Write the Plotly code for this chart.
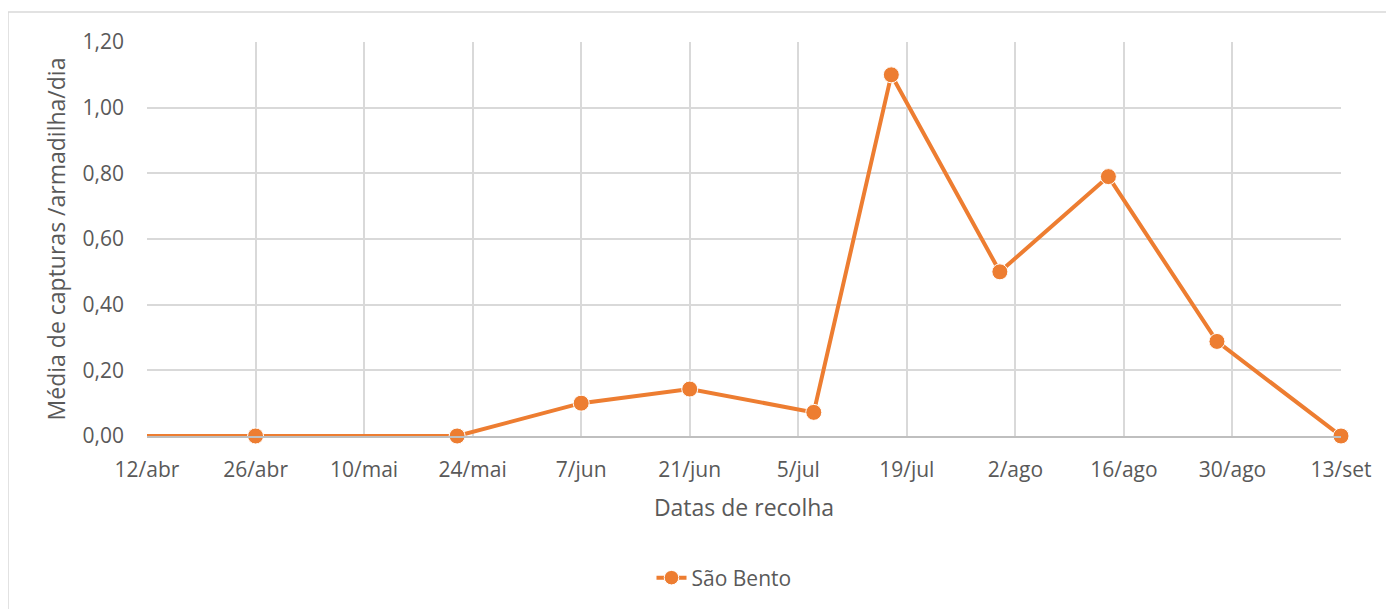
import plotly.graph_objects as go

# Data
dates = ["2021-04-12", "2021-04-26", "2021-05-22", "2021-06-07", "2021-06-21",
         "2021-07-07", "2021-07-17", "2021-07-31", "2021-08-14", "2021-08-28", "2021-09-13"]
values = [0.0, 0.0, 0.0, 0.10, 0.143, 0.072, 1.10, 0.50, 0.79, 0.288, 0.0]
marker_sizes = [0, 16, 16, 16, 16, 16, 16, 16, 16, 16, 16]

tick_dates = ["2021-04-12", "2021-04-26", "2021-05-10", "2021-05-24", "2021-06-07", "2021-06-21",
              "2021-07-05", "2021-07-19", "2021-08-02", "2021-08-16", "2021-08-30", "2021-09-13"]
tick_labels = ["12/abr", "26/abr", "10/mai", "24/mai", "7/jun", "21/jun",
               "5/jul", "19/jul", "2/ago", "16/ago", "30/ago", "13/set"]
y_ticks = [0, 0.2, 0.4, 0.6, 0.8, 1.0, 1.2]

series_name = "São Bento"
orange = "#ED7D31"
text_grey = "#595959"
grid = "#D9D9D9"
font_family = "Open Sans"

# page body has an 8px margin: figure occupies (8,8)-(1394,609)
W, H = 1386, 601
L, R, T, B = 139, 53, 34, 172
PW, PH = W - L - R, H - T - B

fig = go.Figure()
fig.add_trace(go.Scatter(
    x=dates, y=values, name=series_name, mode="lines+markers",
    line=dict(color=orange, width=4),
    marker=dict(color=orange, size=marker_sizes, opacity=1),
    cliponaxis=False,
))

fig.update_layout(
    width=W, height=H,
    margin=dict(l=L, r=R, t=T, b=B),
    paper_bgcolor="white", plot_bgcolor="white",
    separators=",.",
    font=dict(family=font_family, color=text_grey, size=21),
    showlegend=True,
    legend=dict(orientation="h", x=0.5 - 20 / PW, xanchor="center", y=-141 / PH, yanchor="middle",
                font=dict(size=21, color=text_grey)),
    xaxis=dict(
        type="date",
        range=[tick_dates[0], tick_dates[-1]],
        tickvals=tick_dates, ticktext=tick_labels,
        showgrid=True, gridcolor=grid, gridwidth=1.5,
        showline=True, linecolor="#BFBFBF", linewidth=1.5,
        zeroline=False, ticks="",
        ticklabelstandoff=14,
        tickfont=dict(size=21, color=text_grey),
        title=dict(text="Datas de recolha", font=dict(size=23, color=text_grey), standoff=18),
    ),
    yaxis=dict(
        range=[0, 1.2],
        tickvals=y_ticks, tickformat=".2f",
        showgrid=True, gridcolor=grid, gridwidth=1.5,
        zeroline=False, showline=False, ticks="",
        tickfont=dict(size=21, color=text_grey),
        ticklabelstandoff=22,
        title=dict(text="Média de capturas /armadilha/dia", font=dict(size=23, color=text_grey), standoff=10),
    ),
    shapes=[dict(type="rect", xref="paper", yref="paper",
                 x0=-L / PW, x1=(W + 30 - L) / PW,
                 y0=-(B + 30) / PH, y1=(PH + T - 4) / PH,
                 line=dict(color=grid, width=1.5), fillcolor="rgba(0,0,0,0)", layer="below")],
)

fig.write_html("out.html")
